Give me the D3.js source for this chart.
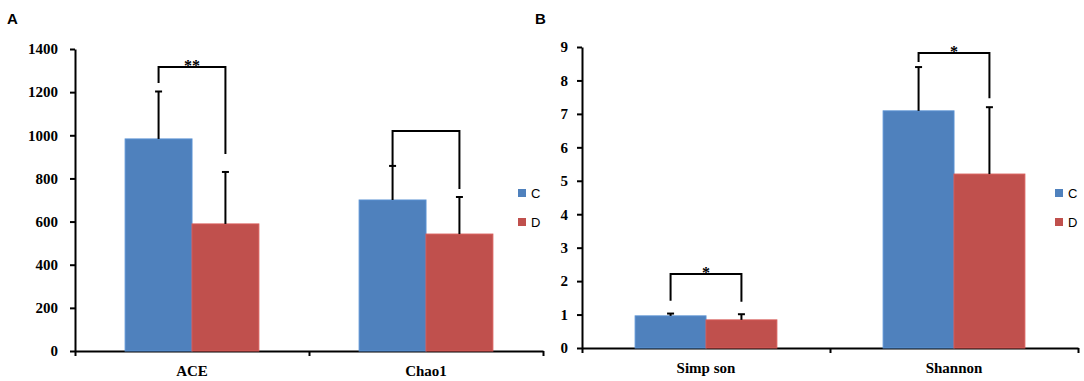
<!DOCTYPE html>
<html>
<head>
<meta charset="utf-8">
<script src="https://cdn.jsdelivr.net/npm/d3@7"></script>
<style>
  body { margin: 0; background: #fff; }
</style>
</head>
<body>
<div id="chart"></div>
<script>
// series
var series = ['C', 'D'];
var colors = ['#4F81BD', '#C0504D'];

// panel A
var cats_a = ['ACE', 'Chao1'];
var mean_a = [[983, 589], [700, 542]];   // [C, D] per category
var err_a = [[1203, 830], [858, 714]];   // top of error bar
var ticks_a = [0, 200, 400, 600, 800, 1000, 1200, 1400];
// brackets: [level, left leg end, right leg end, label]
var brk_a = [[1317, 1242, 913, '**'], [1020, 858, 751, '']];

// panel B
var cats_b = ['Simp son', 'Shannon'];
var mean_b = [[0.96, 0.84], [7.09, 5.2]];
var err_b = [[1.03, 1.01], [8.4, 7.2]];
var ticks_b = [0, 1, 2, 3, 4, 5, 6, 7, 8, 9];
var brk_b = [[2.21, 1.41, 1.38, '*'], [8.82, 8.55, 7.47, '*']];

var chart_width = 1084;
var chart_height = 381;
var serif = '"Liberation Serif", "Times New Roman", serif';
var sans = '"Liberation Sans", Arial, sans-serif';

var svg = d3.select('#chart')
  .append('svg')
  .attr('width', chart_width)
  .attr('height', chart_height);

function styleAxis(sel) {
  sel.selectAll('.domain, .tick line')
    .attr('stroke', '#000')
    .attr('stroke-width', 2);
  sel.selectAll('.tick text')
    .attr('fill', '#000')
    .style('font-family', serif)
    .style('font-weight', 'bold')
    .style('font-size', '15px');
}

function panel(opt) {
  var g = svg.append('g');

  var y_scale = d3.scaleLinear()
    .domain([0, d3.max(opt.ticks)])
    .range([opt.bottom, opt.top]);

  var x0 = d3.scaleBand()
    .domain(opt.cats)
    .range([opt.left, opt.right]);

  var x1 = d3.scaleBand()
    .domain(series)
    .range([0, x0.bandwidth()])
    .paddingOuter(0.75);

  // y axis
  g.append('g')
    .attr('transform', 'translate(' + opt.left + ',0)')
    .call(d3.axisLeft(y_scale).tickValues(opt.ticks).tickFormat(d3.format('d'))
      .tickSize(5).tickSizeOuter(0).tickPadding(opt.pad))
    .call(styleAxis);

  // x axis: line with ticks at category boundaries
  var x_lin = d3.scaleLinear().domain([0, opt.cats.length]).range([opt.left, opt.right]);
  g.append('g')
    .attr('transform', 'translate(0,' + opt.bottom + ')')
    .call(d3.axisBottom(x_lin).tickValues(d3.range(opt.cats.length + 1)).tickSize(5).tickSizeOuter(0).tickFormat(''))
    .call(styleAxis);

  // category labels
  g.append('g')
    .selectAll('text')
    .data(opt.cats)
    .enter()
    .append('text')
    .text(function(d) { return d; })
    .attr('x', function(d) { return x0(d) + x0.bandwidth() / 2; })
    .attr('y', opt.bottom + 25)
    .attr('text-anchor', 'middle')
    .style('font-family', serif)
    .style('font-weight', 'bold')
    .style('font-size', '15px');

  // bars and error bars
  opt.cats.forEach(function(c, i) {
    var grp = g.append('g').attr('transform', 'translate(' + x0(c) + ',0)');
    var rows = series.map(function(s, j) {
      return { s: s, v: opt.mean[i][j], e: opt.err[i][j], color: colors[j] };
    });

    grp.selectAll('rect')
      .data(rows)
      .enter()
      .append('rect')
      .attr('x', function(d) { return x1(d.s); })
      .attr('y', function(d) { return y_scale(d.v); })
      .attr('width', x1.bandwidth())
      .attr('height', function(d) { return y_scale(0) - y_scale(d.v); })
      .attr('fill', function(d) { return d.color; })
      .attr('stroke', function(d) { return d3.color(d.color).brighter(0.3); })
      .attr('stroke-width', 1);

    var eb = grp.selectAll('.err')
      .data(rows)
      .enter()
      .append('g')
      .attr('class', 'err');
    eb.append('line')
      .attr('x1', function(d) { return x1(d.s) + x1.bandwidth() / 2; })
      .attr('x2', function(d) { return x1(d.s) + x1.bandwidth() / 2; })
      .attr('y1', function(d) { return y_scale(d.v); })
      .attr('y2', function(d) { return y_scale(d.e); })
      .attr('stroke', '#000')
      .attr('stroke-width', 2);
    eb.append('line')
      .attr('x1', function(d) { return x1(d.s) + x1.bandwidth() / 2 - 3.5; })
      .attr('x2', function(d) { return x1(d.s) + x1.bandwidth() / 2 + 3.5; })
      .attr('y1', function(d) { return y_scale(d.e); })
      .attr('y2', function(d) { return y_scale(d.e); })
      .attr('stroke', '#000')
      .attr('stroke-width', 2);

    // significance bracket
    var b = opt.brk[i];
    var xl = x1(series[0]) + x1.bandwidth() / 2;
    var xr = x1(series[1]) + x1.bandwidth() / 2;
    grp.append('path')
      .attr('d', 'M' + xl + ',' + y_scale(b[1]) +
                 'V' + y_scale(b[0]) +
                 'H' + xr +
                 'V' + y_scale(b[2]))
      .attr('fill', 'none')
      .attr('stroke', '#000')
      .attr('stroke-width', 2);
    grp.append('text')
      .text(b[3])
      .attr('x', (xl + xr) / 2)
      .attr('y', y_scale(b[0]) + 4)
      .attr('text-anchor', 'middle')
      .style('font-family', serif)
      .style('font-weight', 'bold')
      .style('font-size', '16px');
  });

  // legend
  var lg = g.append('g')
    .selectAll('g')
    .data(series)
    .enter()
    .append('g')
    .attr('transform', function(d, i) { return 'translate(' + opt.legX + ',' + (189 + i * 29) + ')'; });
  lg.append('rect')
    .attr('width', 8)
    .attr('height', 8)
    .attr('fill', function(d, i) { return colors[i]; });
  lg.append('text')
    .text(function(d) { return d; })
    .attr('x', 13)
    .attr('y', 9)
    .style('font-family', sans)
    .style('font-size', '13px');

  // panel letter
  svg.append('text')
    .text(opt.letter)
    .attr('x', opt.letX)
    .attr('y', 24)
    .style('font-family', sans)
    .style('font-weight', 'bold')
    .style('font-size', '15px');
}

panel({ cats: cats_a, mean: mean_a, err: err_a, ticks: ticks_a, brk: brk_a,
        left: 75, right: 543, top: 49, bottom: 351, pad: 12, legX: 518, letter: 'A', letX: 7 });
panel({ cats: cats_b, mean: mean_b, err: err_b, ticks: ticks_b, brk: brk_b,
        left: 582, right: 1078, top: 47, bottom: 348, pad: 9, legX: 1055, letter: 'B', letX: 535 });
</script>
</body>
</html>
